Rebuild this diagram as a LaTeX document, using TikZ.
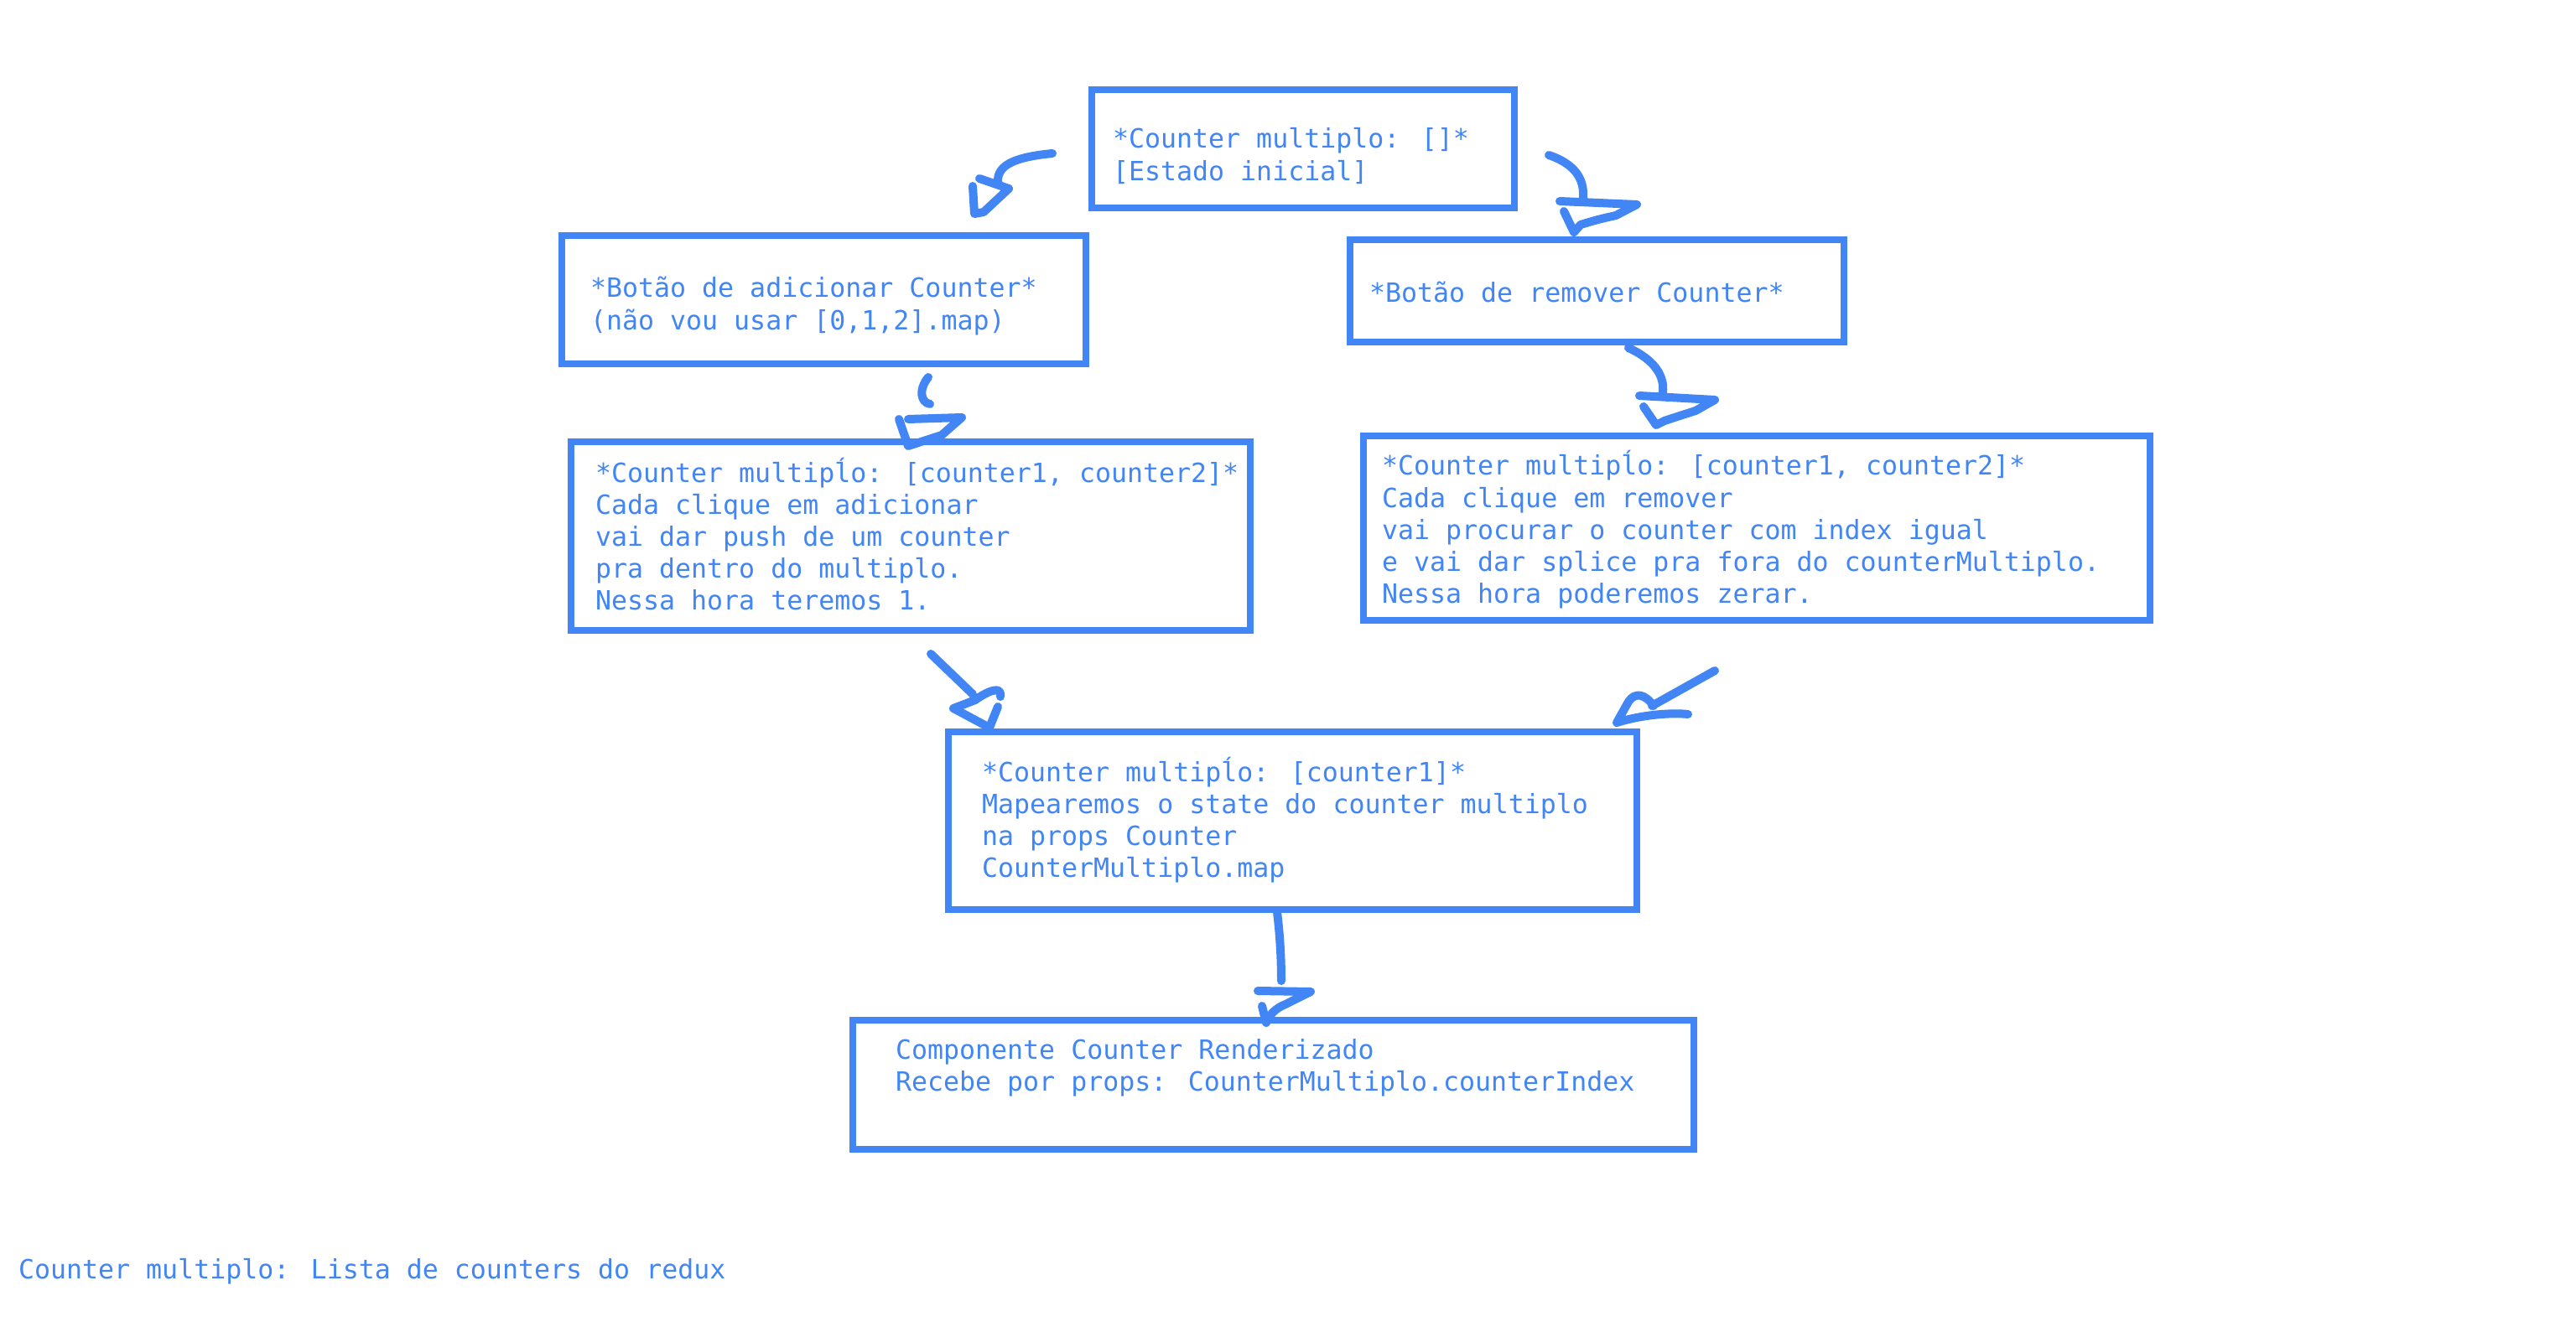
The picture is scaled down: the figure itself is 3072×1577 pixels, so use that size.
\documentclass[tikz,border=0pt]{standalone}
\usepackage{fontspec}
\newfontfamily\monofont{DejaVu Sans Mono}
\definecolor{jblue}{HTML}{4285F4}
\begin{document}
\begin{tikzpicture}[x=0.5pt,y=-0.5pt,
  box/.style={draw=jblue, line width=4pt, rectangle, inner sep=0pt, outer sep=0pt},
  note/.style={anchor=base west, inner sep=0pt, outer sep=0pt, text=jblue,
    font=\monofont\fontsize{15.8}{19.1}\selectfont},
  stroke/.style={draw=jblue, line width=5pt, line cap=round, line join=round}]

% canvas
\fill[white] (0,0) rectangle (3072,1577);
\useasboundingbox (0,0) rectangle (3072,1577);

% boxes
\node[box, minimum width=252pt,   minimum height=70.5pt]  (b1) at (1554,177.5)  {};
\node[box, minimum width=312.5pt, minimum height=76.5pt]  (b2) at (982.5,357.5)  {};
\node[box, minimum width=294.5pt, minimum height=61pt]    (b3) at (1904.5,347)   {};
\node[box, minimum width=405pt,   minimum height=112.5pt] (b4) at (1086,639.5)   {};
\node[box, minimum width=469pt,   minimum height=110pt]   (b5) at (2095,630)     {};
\node[box, minimum width=410.5pt, minimum height=106pt]   (b6) at (1541.5,979)   {};
\node[box, minimum width=501.5pt, minimum height=77pt]    (b7) at (1518.5,1294)  {};

% box texts
\node[note] (t1) at (1327,177) {\begin{tabular}[t]{@{}l@{}}
*Counter multiplo: []*\\
{[}Estado inicial]\end{tabular}};

\node[note] (t2) at (704,355) {\begin{tabular}[t]{@{}l@{}}
*Botão de adicionar Counter*\\
(não vou usar [0,1,2].map)\end{tabular}};

\node[note] (t3) at (1633,361) {\begin{tabular}[t]{@{}l@{}}
*Botão de remover Counter*\end{tabular}};

\node[note] (t4) at (710,575) {\begin{tabular}[t]{@{}l@{}}
*Counter multipĺo: [counter1, counter2]*\\
Cada clique em adicionar\\
vai dar push de um counter\\
pra dentro do multiplo.\\
Nessa hora teremos 1.\end{tabular}};

\node[note] (t5) at (1648,567) {\begin{tabular}[t]{@{}l@{}}
*Counter multipĺo: [counter1, counter2]*\\
Cada clique em remover\\
vai procurar o counter com index igual\\
e vai dar splice pra fora do counterMultiplo.\\
Nessa hora poderemos zerar.\end{tabular}};

\node[note] (t6) at (1171,932) {\begin{tabular}[t]{@{}l@{}}
*Counter multipĺo: [counter1]*\\
Mapearemos o state do counter multiplo\\
na props Counter\\
CounterMultiplo.map\end{tabular}};

\node[note] (t7) at (1068,1263) {\begin{tabular}[t]{@{}l@{}}
Componente Counter Renderizado\\
Recebe por props: CounterMultiplo.counterIndex\end{tabular}};

\node[note] (legend) at (22,1525) {Counter multiplo: Lista de counters do redux};

% hand-drawn arrows: shaft start and tip of each
\coordinate (a1s) at (1255,183);  \coordinate (a1e) at (1190,218);
\coordinate (a2s) at (1847,185);  \coordinate (a2e) at (1888,237);
\coordinate (a3s) at (1107,450);  \coordinate (a3e) at (1109,482);
\coordinate (a4s) at (1942,415);  \coordinate (a4e) at (1983,468);
\coordinate (a5s) at (1110,780);  \coordinate (a5e) at (1160,828);
\coordinate (a6s) at (2045,800);  \coordinate (a6e) at (1970,842);
\coordinate (a7s) at (1523,1088); \coordinate (a7e) at (1528,1170);

% b1 -> b2
\draw[stroke] (a1s) .. controls (1215,187) and (1188,195) .. (a1e);
\draw[stroke] (1168,213) -- (1203,225) -- (1173,253) -- (1162,255) -- (1160,222);

% b1 -> b3
\draw[stroke] (a2s) .. controls (1885,198) and (1889,220) .. (a2e);
\draw[stroke] (1860,240) -- (1952,244) -- (1927,257)
  .. controls (1905,262) .. (1885,268) -- (1877,277) -- (1865,252);

% b2 -> b4
\draw[stroke] (a3s) .. controls (1095,465) and (1098,480) .. (a3e);
\draw[stroke] (1072,500) -- (1083,532) -- (1123,519) -- (1147,498) -- (1083,500);

% b3 -> b5
\draw[stroke] (a4s) .. controls (1975,430) and (1985,450) .. (a4e);
\draw[stroke] (1955,472) -- (2045,477) -- (2022,490)
  .. controls (2000,497) .. (1985,502) -- (1975,507) -- (1960,485);

% b4 -> b6
\draw[stroke] (a5s) -- (a5e);
\draw[stroke] (1193,831) .. controls (1195,818) and (1180,823) .. (1163,835)
  -- (1137,845) -- (1180,868) -- (1190,843);

% b5 -> b6
\draw[stroke] (a6s) -- (a6e);
\draw[stroke] (2013,852) .. controls (1995,850) and (1960,852) .. (1928,862)
  -- (1942,837) .. controls (1950,825) and (1962,828) .. (1972,842);

% b6 -> b7
\draw[stroke] (a7s) .. controls (1527,1120) and (1528,1150) .. (a7e);
\draw[stroke] (1500,1182) -- (1563,1183) -- (1533,1198)
  .. controls (1520,1203) and (1513,1212) .. (1510,1220) -- (1505,1200);

\end{tikzpicture}
\end{document}
